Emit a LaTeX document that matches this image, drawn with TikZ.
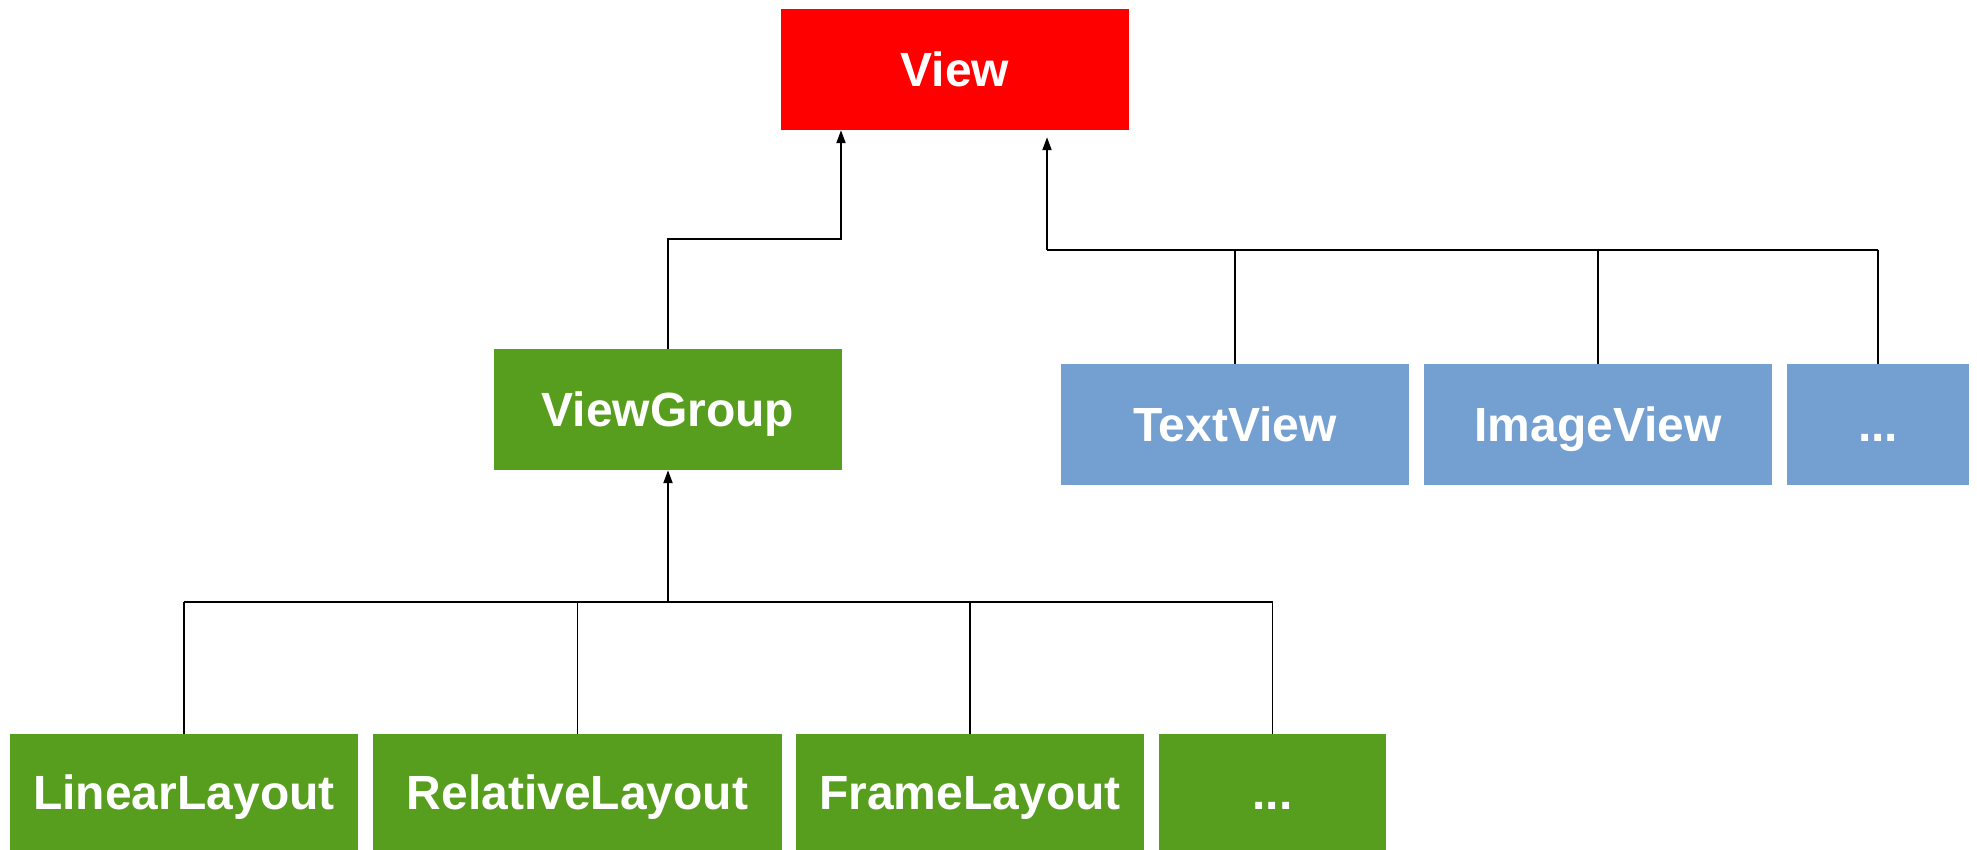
\documentclass[tikz,border=0pt]{standalone}
\usepackage{fontspec}
\setmainfont{Liberation Sans}
\usetikzlibrary{arrows.meta}
\definecolor{viewred}{RGB}{255,0,0}
\definecolor{grpgreen}{RGB}{88,158,30}
\definecolor{leafblue}{RGB}{115,160,208}
\begin{document}
\begin{tikzpicture}[x=1pt,y=-1pt,
  box/.style={rectangle,inner sep=0pt,text=white,
    font=\fontsize{48}{56}\selectfont\bfseries,minimum height=121pt,
    text height=34.4pt,text depth=0pt},
  line/.style={draw=black,line width=2pt},
  thin/.style={draw=black,line width=1.6pt},
  arrow/.style={line,-{Triangle[width=9pt,length=13pt]}}]
\useasboundingbox (0,0) rectangle (1977,850);
% nodes
\node[box,fill=viewred,minimum width=348pt] (view) at (955,69.5) {View};
\node[box,fill=grpgreen,minimum width=348pt] (vg) at (668,409.5) {ViewGroup};
\node[box,fill=leafblue,minimum width=348pt] (tv) at (1235,424.5) {TextView};
\node[box,fill=leafblue,minimum width=348pt] (iv) at (1598,424.5) {ImageView};
\node[box,fill=leafblue,minimum width=182pt] (d1) at (1878,424.5) {...};
\node[box,fill=grpgreen,minimum width=348pt,minimum height=116pt] (ll) at (184,792) {LinearLayout};
\node[box,fill=grpgreen,minimum width=409pt,minimum height=116pt] (rl) at (577.5,792) {RelativeLayout};
\node[box,fill=grpgreen,minimum width=348pt,minimum height=116pt] (fl) at (970,792) {FrameLayout};
\node[box,fill=grpgreen,minimum width=227pt,minimum height=116pt] (d2) at (1272.5,792) {...};
% junction coordinates
\coordinate (j1) at (841,239);
\coordinate (j2) at (1047,250);
\coordinate (bh) at (668,602);
% ViewGroup -> View
\draw[arrow] (vg.north) |- (j1) -- (j1 |- view.south);
% leaf views -> View
\draw[line] (j2) -- (d1.north |- j2);
\draw[thin] (d1.north |- j2) -- (d1.north);
\draw[thin] (tv.north) -- (tv.north |- j2);
\draw[thin] (iv.north) -- (iv.north |- j2);
\draw[arrow,shorten >=7pt] (j2) -- (j2 |- view.south);
% layouts -> ViewGroup
\draw[line] (ll.north |- bh) -- (d2.north |- bh);
\draw[thin] (ll.north) -- (ll.north |- bh);
\draw[thin] (rl.north) -- (rl.north |- bh);
\draw[thin] (fl.north) -- (fl.north |- bh);
\draw[thin] (d2.north) -- (d2.north |- bh);
\draw[arrow] (bh) -- (vg.south);
\end{tikzpicture}
\end{document}
